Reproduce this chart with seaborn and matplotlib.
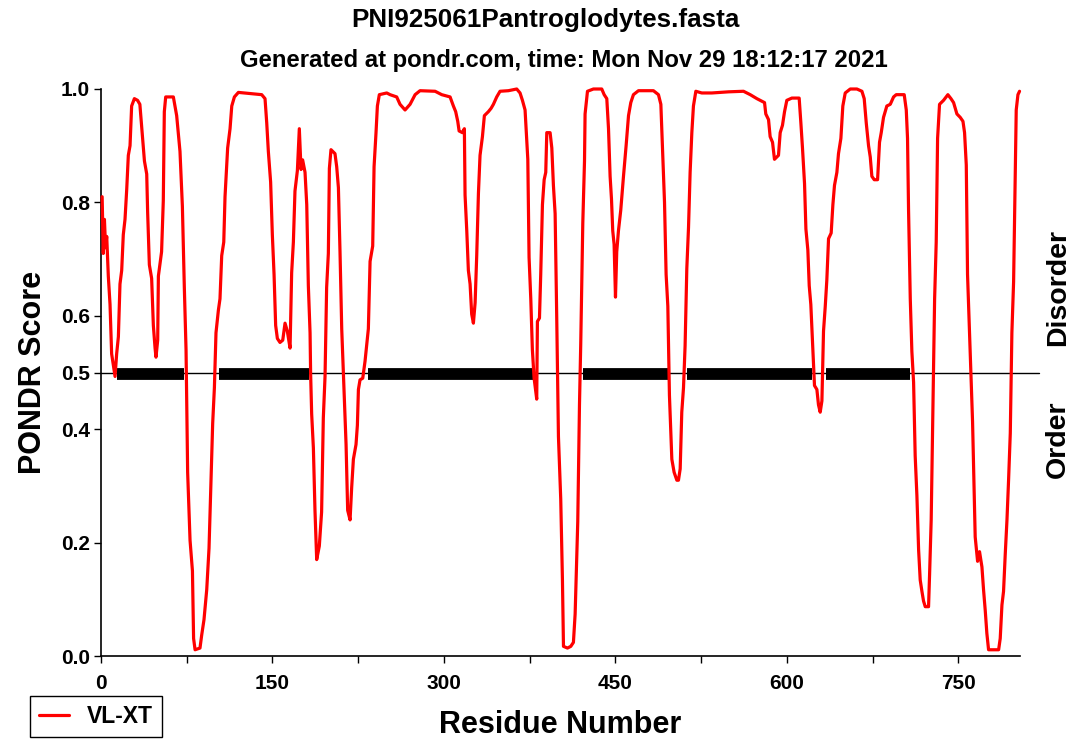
import pandas as pd
import seaborn as sns
import matplotlib.pyplot as plt
from matplotlib.ticker import MultipleLocator

sns.set_style("ticks")
plt.rcParams['font.family'] = ['Liberation Sans', 'DejaVu Sans']
plt.rcParams['font.weight'] = 'bold'
plt.rcParams['text.color'] = 'black'
plt.rcParams['axes.labelcolor'] = 'black'
plt.rcParams['xtick.color'] = 'black'
plt.rcParams['ytick.color'] = 'black'

# VL-XT trace
residue = [
    1, 2, 3, 4, 5, 6.4, 7.9, 9.3, 10.8, 12.3, 13.7, 15.2, 16.6, 18.1, 19.5, 21, 22.5, 23.9, 25.4, 26.8,
    29.2, 32, 34, 35.6, 38, 40, 40.8, 42.3, 44.3, 45.8, 47.3, 48.1, 49.6, 50.2, 53, 54.5, 55.4, 56.6,
    63.3, 66.2, 69.1, 71.2, 72.9, 74.4, 75.8, 77.9, 80, 81, 82.3, 86.6, 88.1, 90.1, 92.5, 94.5, 96.3,
    97.7, 99.2, 100.6, 102.7, 104.1, 105.6, 107.4, 108.5, 110.8, 112.9, 114.4, 116.7, 120.2,
    140.6, 143.5, 145, 146.4, 148.4, 149.9, 151.4, 152.8, 154.3, 156.6, 159, 161, 163, 165.4, 166.8,
    168.3, 169.7, 171.8, 173.5, 175, 176.4, 178.5, 180, 181.4, 182.9, 183.4, 184.3, 185.8, 187.2,
    188.7, 191, 193, 194.5, 196, 197.4, 198.9, 199.8, 201.2, 204.7, 206.2, 207.7, 209.1, 210.6, 212,
    214.4, 215.8, 217.9, 219.3, 220.8, 223.1, 224.3, 225.2, 226.6, 229, 231, 232.5, 233.9, 235.4,
    237.7, 238.9, 240.6, 241.8, 243.5,
    250, 252.9, 258.7, 261.6, 266, 270.4, 274.8, 279.1, 292.3, 298.1, 305.4, 308.3, 310.3, 312.1,
    313.3, 316.2, 317.9, 318.5, 320, 321.4, 322.9, 324.3, 325.8, 327.3, 328.7, 330.2, 331.6, 333.7,
    335.4, 338.9, 341.3, 343.3, 346.2, 349.1, 356.4, 363.7, 366.6, 368.7, 371, 373.4, 374.5, 376,
    377.4, 378.9,
    381.2, 381.8, 383.6, 384.7, 386.2, 387.7, 389.1, 390, 392.9, 394.4, 395.8, 397.3, 398.7, 400.2,
    402.2, 403.7, 404.6, 408.1, 411, 413.3, 414.8, 417.1, 418.6, 419.7, 421.5, 423, 423.5, 425.6,
    430.8, 438.1, 440.2, 442.5, 444, 445.4, 446.6, 447.7, 448.9, 450.1, 451.2, 452.7, 454.7, 457.1,
    459.4, 461.5, 463.5, 465.8, 470.2, 483.3, 487.7, 489.8, 491.5, 493, 494.4, 495.9, 497.3, 499.4,
    501.4, 503.8,
    505.2, 506.7, 508.1, 509.6, 511, 512.5, 514, 515.4, 516.9, 518.3, 520.4, 525.6, 534.4, 549,
    562.1, 568, 573.8, 580.5, 581.6, 584, 585.4, 587.5, 589.2, 592.7, 594.2, 596.2, 598, 600, 604.4,
    610.8, 612.3, 613.7, 615.5, 616.7, 618.4, 619.6, 621, 622.5, 624.2, 626.3, 627.7, 629.2,
    630.7, 632.1, 633.6, 635, 636.5, 638.8, 640.3, 641.7, 643.8, 645.2, 647.3, 649, 651.1, 655.5,
    661.3, 665.7, 667.7, 669.5, 671.5, 673, 674.4, 676.5, 679.4, 681.1, 682.6, 684.6, 687.5, 690.5,
    693.4, 695.7, 702.7, 704.5, 705.6, 706.5, 708, 709.4, 710.9, 712.3, 713.8, 715.3, 716.7, 718.2,
    719.6, 721.1, 724, 724.9, 726.3, 727.8, 729.3, 730.7, 731.9, 733.6, 737.1, 740.9, 743.6, 745.9,
    747.3, 748.8, 751.7, 754.1, 755.5, 757, 758.1, 759.6, 761, 762.5, 763.9, 764.8, 766.9, 768.6,
    770.7, 772.1, 773.6, 775, 776.5, 785.3, 786.7, 788.2, 789.6, 791.1, 792.6, 794, 795.5, 796.9,
    798.4, 800.7, 802.2, 803.6,
]
vlxt = [
    0.81, 0.71, 0.77, 0.72, 0.74, 0.67, 0.62, 0.533, 0.513, 0.493, 0.533, 0.563, 0.656, 0.68, 0.743,
    0.77, 0.823, 0.883, 0.90, 0.97, 0.983, 0.98, 0.973, 0.933, 0.873, 0.85, 0.783, 0.69, 0.666,
    0.583, 0.543, 0.527, 0.557, 0.67, 0.713, 0.803, 0.96, 0.986, 0.986, 0.953, 0.89, 0.793, 0.65,
    0.54, 0.324, 0.204, 0.15, 0.031, 0.011, 0.014, 0.037, 0.064, 0.117, 0.19, 0.314, 0.41, 0.473,
    0.57, 0.61, 0.63, 0.706, 0.73, 0.81, 0.896, 0.93, 0.97, 0.986, 0.994,
    0.99, 0.983, 0.94, 0.89, 0.836, 0.743, 0.673, 0.583, 0.56, 0.553, 0.557, 0.587, 0.573, 0.543,
    0.676, 0.73, 0.82, 0.856, 0.93, 0.858, 0.875, 0.853, 0.796, 0.653, 0.57, 0.497, 0.427, 0.367,
    0.257, 0.17, 0.194, 0.254, 0.42, 0.493, 0.65, 0.71, 0.86, 0.893, 0.886, 0.863, 0.826, 0.713,
    0.577, 0.5, 0.373, 0.257, 0.24, 0.297, 0.347, 0.373, 0.407, 0.47, 0.487, 0.49, 0.52, 0.55,
    0.577, 0.696, 0.723, 0.863, 0.923, 0.97, 0.99,
    0.993, 0.99, 0.986, 0.973, 0.963, 0.973, 0.99, 0.997, 0.996, 0.99, 0.986, 0.97, 0.96, 0.943,
    0.926, 0.923, 0.93, 0.813, 0.75, 0.68, 0.656, 0.603, 0.587, 0.623, 0.706, 0.816, 0.883, 0.916,
    0.953, 0.96, 0.966, 0.973, 0.986, 0.996, 0.997, 1.0, 0.993, 0.98, 0.963, 0.876, 0.703, 0.63,
    0.54, 0.49,
    0.453, 0.59, 0.596, 0.673, 0.796, 0.84, 0.853, 0.923, 0.923, 0.896, 0.83, 0.78, 0.597, 0.387,
    0.277, 0.134, 0.017, 0.014, 0.017, 0.024, 0.074, 0.237, 0.443, 0.55, 0.763, 0.873, 0.956, 0.996,
    1.0, 1.0, 0.99, 0.983, 0.93, 0.846, 0.806, 0.75, 0.726, 0.633, 0.713, 0.75, 0.786, 0.846,
    0.9, 0.953, 0.976, 0.99, 0.997, 0.997, 0.99, 0.973, 0.88, 0.8, 0.673, 0.617, 0.46, 0.347,
    0.324, 0.31,
    0.31, 0.33, 0.43, 0.473, 0.547, 0.683, 0.756, 0.853, 0.923, 0.97, 0.996, 0.993, 0.993, 0.995,
    0.996, 0.99, 0.983, 0.976, 0.956, 0.946, 0.916, 0.906, 0.876, 0.883, 0.923, 0.936, 0.96, 0.98,
    0.984, 0.984, 0.94, 0.896, 0.833, 0.753, 0.716, 0.653, 0.62, 0.553, 0.477, 0.47, 0.443, 0.43,
    0.45, 0.573, 0.616, 0.663, 0.736, 0.746, 0.796, 0.83, 0.853, 0.886, 0.913, 0.97, 0.993, 1.0,
    1.0, 0.996, 0.983, 0.94, 0.9, 0.88, 0.846, 0.84, 0.84, 0.906, 0.923, 0.95, 0.97, 0.973,
    0.986, 0.99, 0.99, 0.963, 0.913, 0.786, 0.63, 0.537, 0.483, 0.353, 0.283, 0.187, 0.134, 0.114,
    0.097, 0.087, 0.087, 0.144, 0.24, 0.43, 0.63, 0.73, 0.913, 0.973, 0.98, 0.99, 0.983, 0.976,
    0.966, 0.956, 0.95, 0.943, 0.923, 0.866, 0.673, 0.583, 0.503, 0.413, 0.287, 0.21, 0.167, 0.184,
    0.157, 0.117, 0.08, 0.04, 0.011, 0.011, 0.031, 0.09, 0.114, 0.18, 0.24, 0.31, 0.393, 0.57,
    0.66, 0.963, 0.99, 0.996,
]

# long predicted disordered regions (black bars at 0.5)
disorder_start = [14, 103, 234, 422, 513, 634]
disorder_end = [73, 182, 378, 496, 622, 708]

xticks = [0, 150, 300, 450, 600, 750]
yticks = [0.0, 0.2, 0.4, 0.5, 0.6, 0.8, 1.0]

df = pd.DataFrame({'Residue Number': residue, 'PONDR Score': vlxt})

fig = plt.figure(figsize=(10.75, 7.44), dpi=100)
ax = fig.add_axes([101 / 1075, 88 / 744, 919 / 1075, 567 / 744])

for s, e in zip(disorder_start, disorder_end):
    ax.plot([s, e], [0.497, 0.497], color='black', lw=8.5, solid_capstyle='butt', zorder=2)
ax.plot([0, 821], [0.5, 0.5], color='black', lw=1, clip_on=False, zorder=3)

sns.lineplot(data=df, x='Residue Number', y='PONDR Score', color='red', lw=2.3,
             estimator=None, sort=False, ax=ax, zorder=4, clip_on=False)

ax.set_xlim(0, 804)
ax.set_ylim(0, 1)
ax.set_xticks(xticks)
ax.xaxis.set_minor_locator(MultipleLocator(75))
ax.set_yticks(yticks)
ax.set_yticklabels([f'{v:.1f}' for v in yticks])
ax.tick_params(axis='both', which='both', direction='out', length=5, width=1,
               color='black', labelsize=15, labelcolor='black')
ax.tick_params(axis='x', pad=8)
ax.tick_params(axis='y', pad=3)
sns.despine(ax=ax)
for sp in ['left', 'bottom']:
    ax.spines[sp].set_linewidth(1.2)
    ax.spines[sp].set_color('black')

ax.set_xlabel('Residue Number', fontsize=22, fontweight='bold', color='black')
ax.xaxis.set_label_coords(0.5, -0.095)
ax.set_ylabel('PONDR Score', fontsize=22, fontweight='bold', color='black')
ax.yaxis.set_label_coords(-0.058, 0.5)

fig.text(545 / 1075, 1 - 20 / 744, 'PNI925061Pantroglodytes.fasta', ha='center', va='center',
         fontsize=18.7, fontweight='bold', color='black')
fig.text(564 / 1075, 1 - 61 / 744, 'Generated at pondr.com, time: Mon Nov 29 18:12:17 2021',
         ha='center', va='center', fontsize=17.2, fontweight='bold', color='black')
fig.text(1058 / 1075, 1 - 288 / 744, 'Disorder', rotation=90, ha='center', va='center',
         fontsize=20.5, fontweight='bold', color='black')
fig.text(1058 / 1075, 1 - 439 / 744, 'Order', rotation=90, ha='center', va='center',
         fontsize=20.5, fontweight='bold', color='black')

line = ax.get_lines()[-1]
fig.legend([line], ['VL-XT'], loc='lower left', bbox_to_anchor=(30 / 1075, 7 / 744),
           fancybox=False, edgecolor='black', framealpha=1, fontsize=16.5,
           handlelength=1.3, borderaxespad=0)

fig.savefig('out.png', dpi=100)
